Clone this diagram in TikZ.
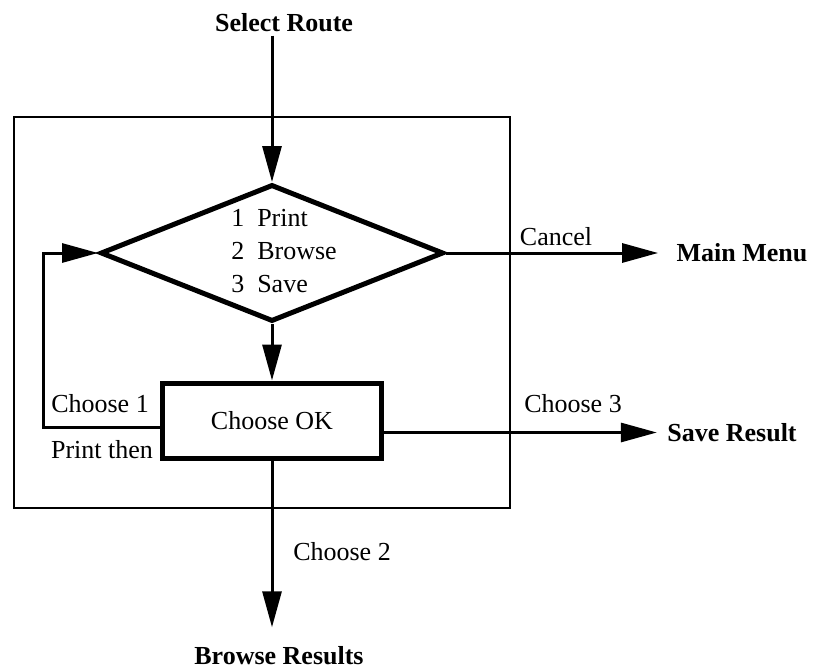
\documentclass[tikz,border=0pt]{standalone}
\usepackage{fontspec}
\setmainfont{Liberation Serif}
\usetikzlibrary{shapes,arrows.meta,positioning}

\begin{document}
\begin{tikzpicture}[x=1pt, y=-1pt, >={Triangle[length=36pt,width=19pt]}, font=\fontsize{26}{33}\selectfont]
	%define block styles
	\tikzset{
		decision/.style={diamond, draw=black, line width=5pt, aspect=2.5, inner ysep=0pt, inner xsep=-18pt, minimum width=343pt, minimum height=137pt},
		process/.style={rectangle, draw=black, line width=5pt, minimum width=219pt, minimum height=75pt},
		terminal/.style={font=\fontsize{26}{33}\selectfont\bfseries},
		frame/.style={draw=black, line width=2pt},
		arrow/.style={line width=3pt,->},
	}
	\useasboundingbox (0,0) rectangle (814,669);
	%define nodes
	\node[terminal] (select) at (284,23) {Select Route};
	\node[decision] (menu) at (272,253) {\hspace*{24pt}\begin{tabular}{@{}l@{}}1\ \ Print\\2\ \ Browse\\3\ \ Save\end{tabular}};
	\node[process, below of=menu, node distance=167.5pt] (ok) {Choose OK};
	\node[terminal] (browse) at (279,656) {Browse Results};
	\node[terminal] (main) at (742,253) {Main Menu};
	\node[terminal] (save) at (732,432.5) {Save Result};
	\coordinate (bend) at (43,253);
	%define labels
	\node at (556,237) {Cancel};
	\node at (573,404) {Choose 3};
	\node at (342,552) {Choose 2};
	\node at (100,404) {Choose 1};
	\node at (102,450) {Print then};
	%define frame
	\draw[frame] (14,117) rectangle (510,508);
	%define arrows
	\draw[arrow] (select.south -| menu.north) -- (menu.north);
	\draw[arrow] (menu.south) -- (ok.north);
	\draw[arrow, shorten >=15pt] (menu.east) -- (main.west);
	\draw[arrow] ([yshift=-7pt]ok.west) -| (bend) -- (menu.west);
	\draw[arrow, shorten >=7pt] ([yshift=-12pt]ok.east) -- (save.west);
	\draw[arrow, shorten >=16pt] (ok.south) -- (ok.south |- browse.north);
\end{tikzpicture}
\end{document}
